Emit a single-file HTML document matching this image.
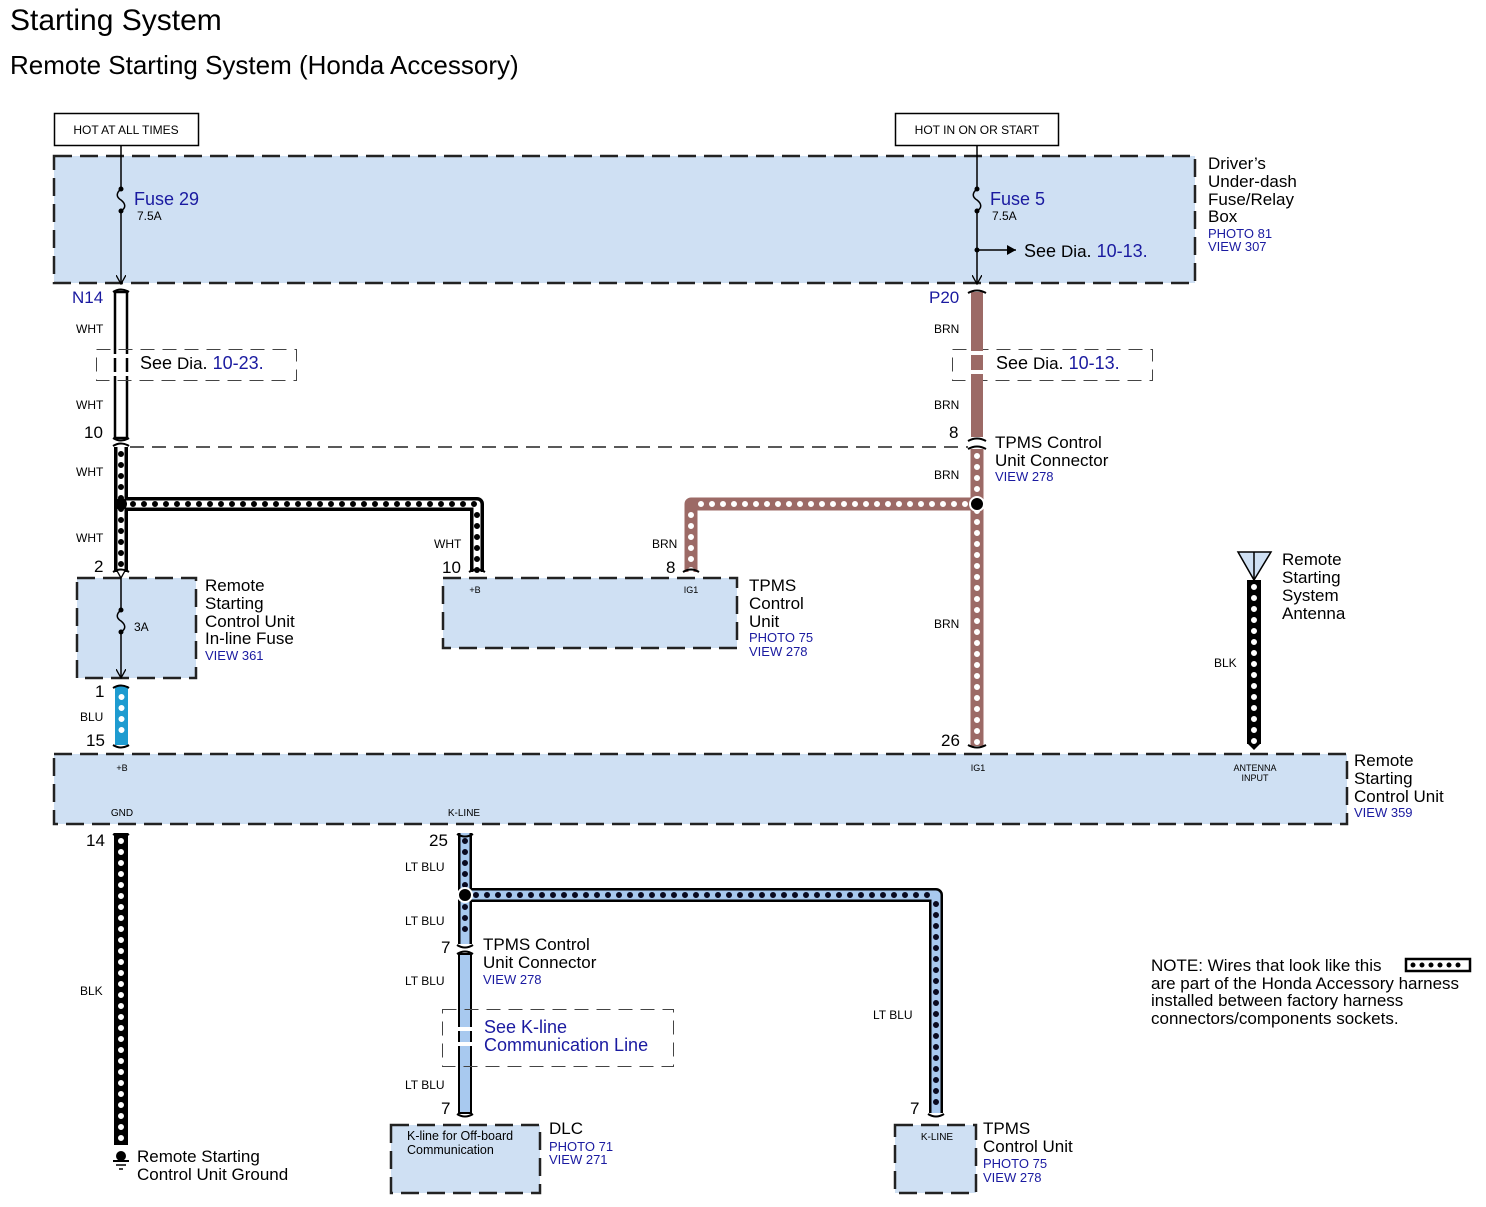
<!DOCTYPE html>
<html><head><meta charset="utf-8"><style>
html,body{margin:0;padding:0;background:#fff;}
svg{display:block;font-family:"Liberation Sans",Arial,sans-serif;}
.b{fill:#1a1aa0}
</style></head><body>
<svg width="1486" height="1207" viewBox="0 0 1486 1207" xmlns="http://www.w3.org/2000/svg">
<defs>
<marker id="ah" markerWidth="10" markerHeight="10" refX="9" refY="5" orient="auto" markerUnits="userSpaceOnUse"><path d="M0,0 L9,5 L0,10" fill="none" stroke="#000" stroke-width="1.3"/></marker>
<marker id="af" markerWidth="10" markerHeight="10" refX="9" refY="5" orient="auto" markerUnits="userSpaceOnUse"><path d="M0,0 L9,5 L0,10 Z" fill="#000"/></marker>
</defs>
<text x="10" y="30" font-size="30">Starting System</text>
<text x="10" y="74" font-size="26">Remote Starting System (Honda Accessory)</text>

<!-- hot boxes -->
<rect x="54.5" y="113.5" width="144" height="32" fill="#fff" stroke="#000" stroke-width="1.5"/>
<text x="126" y="134" font-size="12" text-anchor="middle">HOT AT ALL TIMES</text>
<rect x="895.5" y="113.5" width="163" height="32" fill="#fff" stroke="#000" stroke-width="1.5"/>
<text x="977" y="134" font-size="12" text-anchor="middle">HOT IN ON OR START</text>

<!-- fuse box -->
<rect x="54" y="156" width="1141" height="127" fill="#cfe0f3" stroke="#222" stroke-width="2.5" stroke-dasharray="18 8"/>
<text x="1208" y="169" font-size="17">Driver’s</text>
<text x="1208" y="187" font-size="17">Under-dash</text>
<text x="1208" y="205" font-size="17">Fuse/Relay</text>
<text x="1208" y="222" font-size="17">Box</text>
<text x="1208" y="238" font-size="13" class="b">PHOTO 81</text>
<text x="1208" y="251" font-size="13" class="b">VIEW 307</text>

<!-- fuse 29 -->
<line x1="121" y1="145" x2="121" y2="189" stroke="#000" stroke-width="1.5"/>
<path d="M121,189 c-5,4 -5,8 0,11 c5,4 5,8 0,11" fill="none" stroke="#000" stroke-width="1.5"/>
<circle cx="121" cy="189" r="2.5"/><circle cx="121" cy="211" r="2.5"/>
<line x1="121" y1="211" x2="121" y2="284" stroke="#000" stroke-width="1.5" marker-end="url(#ah)"/>
<text x="134" y="205" font-size="18" class="b">Fuse 29</text>
<text x="137" y="220" font-size="12">7.5A</text>
<!-- fuse 5 -->
<line x1="977" y1="145" x2="977" y2="189" stroke="#000" stroke-width="1.5"/>
<path d="M977,189 c-5,4 -5,8 0,11 c5,4 5,8 0,11" fill="none" stroke="#000" stroke-width="1.5"/>
<circle cx="977" cy="189" r="2.5"/><circle cx="977" cy="211" r="2.5"/><circle cx="977" cy="250" r="2.5"/>
<line x1="977" y1="211" x2="977" y2="284" stroke="#000" stroke-width="1.5" marker-end="url(#ah)"/>
<line x1="977" y1="250" x2="1016" y2="250" stroke="#000" stroke-width="1.5" marker-end="url(#af)"/>
<text x="990" y="205" font-size="18" class="b">Fuse 5</text>
<text x="992" y="220" font-size="12">7.5A</text>
<text x="1024" y="257" font-size="18">See <tspan font-size="17">Dia</tspan>. <tspan class="b">10-13.</tspan></text>

<!-- WHT solid wire N14 -->
<rect x="115" y="292" width="12" height="146" fill="#fff" stroke="#000" stroke-width="2.5"/>
<path d="M113,292 q8,-5 16,0 M113,438 q8,5 16,0" fill="none" stroke="#000" stroke-width="2"/>
<text x="72" y="303" font-size="17" class="b">N14</text>
<text x="76" y="333" font-size="12">WHT</text>
<text x="76" y="409" font-size="12">WHT</text>
<text x="84" y="438" font-size="17">10</text>

<!-- see dia boxes -->
<rect x="96.5" y="349.5" width="200" height="31" fill="none" stroke="#444" stroke-width="1" stroke-dasharray="14 8"/>
<rect x="110" y="354" width="23" height="4" fill="#fff"/>
<rect x="110" y="372" width="23" height="4" fill="#fff"/>
<text x="140" y="369" font-size="18">See <tspan font-size="17">Dia</tspan>. <tspan class="b">10-23.</tspan></text>
<rect x="952.5" y="349.5" width="200" height="31" fill="none" stroke="#444" stroke-width="1" stroke-dasharray="14 8"/>
<text x="996" y="369" font-size="18">See <tspan font-size="17">Dia</tspan>. <tspan class="b">10-13.</tspan></text>

<!-- BRN solid wire P20 -->
<rect x="971" y="292" width="12" height="145" fill="#9c6a66"/>
<rect x="968" y="351" width="18" height="4" fill="#fff"/>
<rect x="968" y="370" width="18" height="4" fill="#fff"/>
<path d="M968,293 q9,-5 18,0" fill="none" stroke="#000" stroke-width="2"/>
<path d="M968,441 q9,-5 18,0 M968,449 q9,-5 18,0" fill="none" stroke="#000" stroke-width="2"/>
<text x="929" y="303" font-size="17" class="b">P20</text>
<text x="934" y="333" font-size="12">BRN</text>
<text x="934" y="409" font-size="12">BRN</text>
<text x="949" y="438" font-size="17">8</text>
<text x="995" y="448" font-size="17">TPMS Control</text>
<text x="995" y="466" font-size="17">Unit Connector</text>
<text x="995" y="481" font-size="13" class="b">VIEW 278</text>

<!-- dashed connector line -->
<line x1="130" y1="447" x2="968" y2="447" stroke="#222" stroke-width="1.5" stroke-dasharray="14 8"/>
<path d="M113,446 q8,-5 16,0" fill="none" stroke="#000" stroke-width="2"/>

<!-- WHT accessory wires -->
<g fill="none" stroke-linejoin="round">
<path d="M121,447 V572 M121,504 H477 V572" stroke="#000" stroke-width="14"/>
<path d="M121,447 V572 M121,504 H477 V572" stroke="#fff" stroke-width="7"/>
<path d="M121,454 V572" stroke="#000" stroke-width="6" stroke-linecap="round" stroke-dasharray="0 11"/>
<path d="M133,504 H477" stroke="#000" stroke-width="6" stroke-linecap="round" stroke-dasharray="0 11"/>
<path d="M477,515 V572" stroke="#000" stroke-width="6" stroke-linecap="round" stroke-dasharray="0 11"/>
<!-- BRN accessory -->
<path d="M977,449 V746 M977,504 H691 V572" stroke="#9c6a66" stroke-width="13"/>
<path d="M977,456 V746" stroke="#fff" stroke-width="6" stroke-linecap="round" stroke-dasharray="0 11"/>
<path d="M965,504 H691" stroke="#fff" stroke-width="6" stroke-linecap="round" stroke-dasharray="0 11"/>
<path d="M691,515 V572" stroke="#fff" stroke-width="6" stroke-linecap="round" stroke-dasharray="0 11"/>
</g>
<circle cx="121" cy="504" r="6"/><circle cx="977" cy="504" r="7" stroke="#fff" stroke-width="2"/>
<path d="M113,572 q8,-5 16,0 M469,572 q8,-5 16,0 M683,572 q8,-5 16,0" fill="none" stroke="#000" stroke-width="2"/>
<text x="76" y="476" font-size="12">WHT</text>
<text x="76" y="542" font-size="12">WHT</text>
<text x="94" y="572" font-size="17">2</text>
<text x="434" y="548" font-size="12">WHT</text>
<text x="442" y="573" font-size="17">10</text>
<text x="652" y="548" font-size="12">BRN</text>
<text x="666" y="573" font-size="17">8</text>
<text x="934" y="479" font-size="12">BRN</text>
<text x="934" y="628" font-size="12">BRN</text>

<!-- inline fuse box -->
<rect x="77" y="578" width="119" height="100" fill="#cfe0f3" stroke="#222" stroke-width="2.5" stroke-dasharray="18 8"/>
<line x1="121" y1="578" x2="121" y2="610" stroke="#000" stroke-width="1.5" marker-start="url(#ah)"/>
<path d="M121,610 c-5,4 -5,8 0,11 c5,4 5,8 0,11" fill="none" stroke="#000" stroke-width="1.5"/>
<circle cx="121" cy="610" r="2.5"/><circle cx="121" cy="632" r="2.5"/>
<line x1="121" y1="632" x2="121" y2="678" stroke="#000" stroke-width="1.5" marker-end="url(#ah)"/>
<text x="134" y="631" font-size="12">3A</text>
<text x="205" y="591" font-size="17">Remote</text>
<text x="205" y="609" font-size="17">Starting</text>
<text x="205" y="627" font-size="17">Control Unit</text>
<text x="205" y="644" font-size="17">In-line Fuse</text>
<text x="205" y="660" font-size="13" class="b">VIEW 361</text>

<!-- TPMS control unit -->
<rect x="443" y="578" width="294" height="70" fill="#cfe0f3" stroke="#222" stroke-width="2.5" stroke-dasharray="18 8"/>
<text x="475" y="593" font-size="9" text-anchor="middle">+B</text>
<text x="691" y="593" font-size="9" text-anchor="middle">IG1</text>
<text x="749" y="591" font-size="17">TPMS</text>
<text x="749" y="609" font-size="17">Control</text>
<text x="749" y="627" font-size="17">Unit</text>
<text x="749" y="642" font-size="13" class="b">PHOTO 75</text>
<text x="749" y="656" font-size="13" class="b">VIEW 278</text>

<!-- BLU wire -->
<rect x="115" y="686" width="13" height="59" fill="#1e9bd0"/>
<path d="M121.5,697 V740" stroke="#fff" stroke-width="6" stroke-linecap="round" stroke-dasharray="0 11" fill="none"/>
<path d="M113,688 q8,-5 16,0 M113,745 q8,5 16,0" fill="none" stroke="#000" stroke-width="2"/>
<text x="95" y="697" font-size="17">1</text>
<text x="80" y="721" font-size="12">BLU</text>
<text x="86" y="746" font-size="17">15</text>
<path d="M968,745 q9,5 18,0" fill="none" stroke="#000" stroke-width="2"/>
<text x="941" y="746" font-size="17">26</text>

<!-- antenna -->
<path d="M1238,552 H1271 L1254,580 Z" fill="#cfe0f3" stroke="#000" stroke-width="1.5"/>
<line x1="1254" y1="552" x2="1254" y2="580" stroke="#000" stroke-width="1.5"/>
<rect x="1247" y="580" width="14" height="164" fill="#000"/>
<path d="M1254,587 V742" stroke="#fff" stroke-width="6" stroke-linecap="round" stroke-dasharray="0 11" fill="none"/>
<path d="M1248,744 L1254,750 L1260,744 Z" fill="#000"/>
<text x="1214" y="667" font-size="12">BLK</text>
<text x="1282" y="565" font-size="17">Remote</text>
<text x="1282" y="583" font-size="17">Starting</text>
<text x="1282" y="601" font-size="17">System</text>
<text x="1282" y="619" font-size="17">Antenna</text>

<!-- RSCU -->
<rect x="54" y="754" width="1293" height="70" fill="#cfe0f3" stroke="#222" stroke-width="2.5" stroke-dasharray="18 8"/>
<text x="122" y="771" font-size="9" text-anchor="middle">+B</text>
<text x="978" y="771" font-size="9" text-anchor="middle">IG1</text>
<text x="1255" y="771" font-size="9" text-anchor="middle">ANTENNA</text>
<text x="1255" y="781" font-size="9" text-anchor="middle">INPUT</text>
<text x="122" y="816" font-size="10" text-anchor="middle">GND</text>
<text x="464" y="816" font-size="10" text-anchor="middle">K-LINE</text>
<text x="1354" y="766" font-size="17">Remote</text>
<text x="1354" y="784" font-size="17">Starting</text>
<text x="1354" y="802" font-size="17">Control Unit</text>
<text x="1354" y="817" font-size="13" class="b">VIEW 359</text>

<!-- GND wire -->
<rect x="114" y="833" width="14" height="312" fill="#000"/>
<path d="M121,841 V1140" stroke="#fff" stroke-width="6" stroke-linecap="round" stroke-dasharray="0 11" fill="none"/>
<path d="M113,834 q8,5 16,0" fill="none" stroke="#000" stroke-width="2"/>
<text x="86" y="846" font-size="17">14</text>
<text x="80" y="995" font-size="12">BLK</text>
<circle cx="121" cy="1156" r="5"/>
<line x1="113" y1="1161" x2="129" y2="1161" stroke="#000" stroke-width="2"/>
<line x1="116" y1="1165" x2="126" y2="1165" stroke="#000" stroke-width="1.5"/>
<line x1="119" y1="1169" x2="123" y2="1169" stroke="#000" stroke-width="1.5"/>
<text x="137" y="1162" font-size="17">Remote Starting</text>
<text x="137" y="1180" font-size="17">Control Unit Ground</text>

<!-- K-line accessory -->
<g fill="none" stroke-linejoin="round">
<path d="M465,833 V944 M465,895 H936 V1113" stroke="#000" stroke-width="14"/>
<path d="M465,833 V944 M465,895 H936 V1113" stroke="#a8c9ef" stroke-width="9"/>
<path d="M465,841 V940" stroke="#0a0a20" stroke-width="6" stroke-linecap="round" stroke-dasharray="0 11"/>
<path d="M476,895 H930" stroke="#0a0a20" stroke-width="6" stroke-linecap="round" stroke-dasharray="0 11"/>
<path d="M936,904 V1112" stroke="#0a0a20" stroke-width="6" stroke-linecap="round" stroke-dasharray="0 11"/>
</g>
<circle cx="465" cy="895" r="7" stroke="#fff" stroke-width="2"/>
<path d="M457,834 q8,5 16,0 M457,945 q8,5 16,0 M457,954 q8,-5 16,0" fill="none" stroke="#000" stroke-width="2"/>
<rect x="459" y="954" width="12" height="159" fill="#a8c9ef" stroke="#000" stroke-width="2"/>
<path d="M457,1114 q8,5 16,0 M928,1114 q8,5 16,0" fill="none" stroke="#000" stroke-width="2"/>
<text x="429" y="846" font-size="17">25</text>
<text x="405" y="871" font-size="12">LT BLU</text>
<text x="405" y="925" font-size="12">LT BLU</text>
<text x="441" y="953" font-size="17">7</text>
<text x="483" y="950" font-size="17">TPMS Control</text>
<text x="483" y="968" font-size="17">Unit Connector</text>
<text x="483" y="984" font-size="13" class="b">VIEW 278</text>
<text x="405" y="985" font-size="12">LT BLU</text>
<text x="405" y="1089" font-size="12">LT BLU</text>
<text x="441" y="1114" font-size="17">7</text>
<text x="873" y="1019" font-size="12">LT BLU</text>
<text x="910" y="1114" font-size="17">7</text>

<rect x="442.5" y="1009.5" width="231" height="57" fill="none" stroke="#444" stroke-width="1" stroke-dasharray="14 8"/>
<rect x="456" y="1027" width="20" height="4" fill="#fff"/>
<rect x="456" y="1042" width="20" height="4" fill="#fff"/>
<text x="484" y="1033" font-size="18" class="b">See K-line</text>
<text x="484" y="1051" font-size="18" class="b">Communication Line</text>

<!-- DLC -->
<rect x="391" y="1125" width="149" height="68" fill="#cfe0f3" stroke="#222" stroke-width="2.5" stroke-dasharray="18 8"/>
<text x="407" y="1140" font-size="12.5">K-line for Off-board</text>
<text x="407" y="1154" font-size="12.5">Communication</text>
<text x="549" y="1134" font-size="17">DLC</text>
<text x="549" y="1151" font-size="13" class="b">PHOTO 71</text>
<text x="549" y="1164" font-size="13" class="b">VIEW 271</text>

<rect x="895" y="1125" width="81" height="68" fill="#cfe0f3" stroke="#222" stroke-width="2.5" stroke-dasharray="18 8"/>
<text x="937" y="1140" font-size="10" text-anchor="middle">K-LINE</text>
<text x="983" y="1134" font-size="17">TPMS</text>
<text x="983" y="1152" font-size="17">Control Unit</text>
<text x="983" y="1168" font-size="13" class="b">PHOTO 75</text>
<text x="983" y="1182" font-size="13" class="b">VIEW 278</text>

<!-- note -->
<text x="1151" y="971" font-size="17">NOTE: Wires that look like this</text>
<text x="1151" y="989" font-size="17">are part of the Honda Accessory harness</text>
<text x="1151" y="1006" font-size="17">installed between factory harness</text>
<text x="1151" y="1024" font-size="17">connectors/components sockets.</text>
<rect x="1406" y="959" width="64" height="12" fill="#fff" stroke="#000" stroke-width="2.5"/>
<path d="M1413,965 H1466" stroke="#000" stroke-width="5" stroke-linecap="round" stroke-dasharray="0 9" fill="none"/>
</svg>
</body></html>
